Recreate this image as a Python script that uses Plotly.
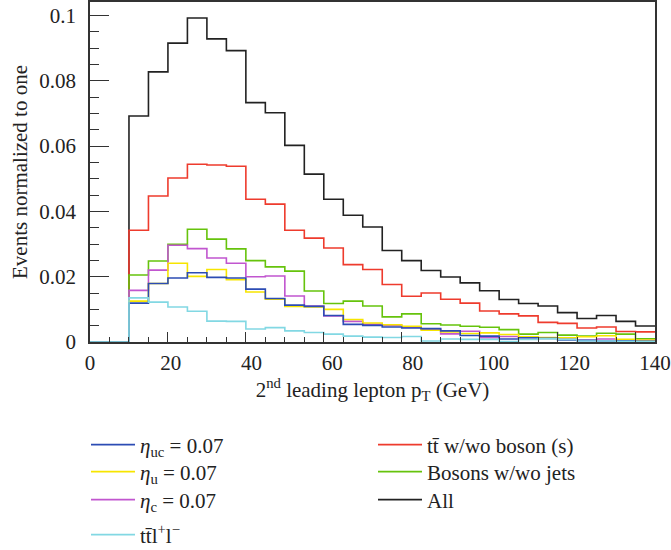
import plotly.graph_objects as go

# bin edges (GeV), 5 GeV bins
bin_edges = [0, 5, 10, 15, 20, 25, 30, 35, 40, 45, 50, 55, 60, 65, 70, 75,
             80, 85, 90, 95, 100, 105, 110, 115, 120, 125, 130, 135, 140, 145]

eta_uc = [0, 0, 0.0119, 0.0179, 0.0196, 0.0212, 0.0198, 0.0196, 0.0162, 0.0133, 0.0113,
          0.0109, 0.0081, 0.0054, 0.0051, 0.0046, 0.0043, 0.0041, 0.0034, 0.0020, 0.0018,
          0.0009, 0.0013, 0.0011, 0.0006, 0.0005, 0.0003, 0.0004, 0.0002]
eta_u = [0, 0, 0.0125, 0.0179, 0.0241, 0.0201, 0.0222, 0.0191, 0.0153, 0.0131, 0.0109,
         0.0107, 0.0100, 0.0069, 0.0058, 0.0053, 0.0048, 0.0036, 0.0031, 0.0026, 0.0028,
         0.0023, 0.0016, 0.0014, 0.0013, 0.0016, 0.0019, 0.0008, 0.0006]
eta_c = [0, 0, 0.0158, 0.0220, 0.0296, 0.0286, 0.0257, 0.0241, 0.0200, 0.0202, 0.0141,
         0.0110, 0.0080, 0.0063, 0.0054, 0.0051, 0.0045, 0.0039, 0.0025, 0.0033, 0.0013,
         0.0017, 0.0010, 0.0012, 0.0010, 0.0005, 0.0009, 0.0004, 0.0005]
ttll = [0, 0, 0.0135, 0.0122, 0.0107, 0.0094, 0.0064, 0.0063, 0.0040, 0.0044, 0.0034,
        0.0029, 0.0024, 0.0018, 0.0015, 0.0014, 0.0017, 0.0003, 0.0009, 0.0008, 0.0008,
        0.0001, 0.0008, 0.0010, 0.0008, 0.0003, 0.0003, 0.0002, 0.0001]
tt_boson = [0, 0, 0.0342, 0.0447, 0.0502, 0.0544, 0.0542, 0.0538, 0.0437, 0.0422, 0.0342,
            0.0318, 0.0288, 0.0237, 0.0222, 0.0176, 0.0140, 0.0150, 0.0131, 0.0119, 0.0095,
            0.0086, 0.0080, 0.0060, 0.0057, 0.0043, 0.0046, 0.0032, 0.0031]
bosons_jets = [0, 0, 0.0205, 0.0248, 0.0299, 0.0345, 0.0315, 0.0285, 0.0249, 0.0230, 0.0217,
               0.0156, 0.0118, 0.0125, 0.0110, 0.0077, 0.0086, 0.0056, 0.0052, 0.0048, 0.0045,
               0.0038, 0.0024, 0.0029, 0.0021, 0.0018, 0.0027, 0.0024, 0.0010]
all_bkg = [0, 0, 0.0692, 0.0827, 0.0915, 0.0992, 0.0928, 0.0892, 0.0733, 0.0702, 0.0602,
           0.0514, 0.0437, 0.0388, 0.0352, 0.0280, 0.0249, 0.0219, 0.0199, 0.0181, 0.0157,
           0.0130, 0.0118, 0.0110, 0.0090, 0.0072, 0.0081, 0.0063, 0.0049]

x_tick_labels = [0, 20, 40, 60, 80, 100, 120, 140]

FONT = '"Liberation Serif", "Times New Roman", Times, serif'
FS = 21

# (name, values, colour, legend id, column x (px), row centre y (px))
series = [
    ("All", all_bkg, "#222222", "legend7", 373, 500),
    ("t<span>t\u0304</span> w/wo boson (s)", tt_boson, "#ee3b2d", "legend5", 373, 445),
    ("Bosons w/wo jets", bosons_jets, "#66c30c", "legend6", 373, 472),
    ("<i>\u03b7</i><sub>c</sub> = 0.07", eta_c, "#c156cf", "legend3", 86, 500),
    ("<i>\u03b7</i><sub>u</sub> = 0.07", eta_u, "#f7e500", "legend2", 86, 472),
    ("<i>\u03b7</i><sub>uc</sub> = 0.07", eta_uc, "#2c4cb4", "legend", 86, 445),
    ("tt\u0304l<sup>+</sup>l<sup>\u2212</sup>", ttll, "#82d8e3", "legend4", 86, 535),
]

W, H = 671, 550
ML, MR, MT, MB = 90, 16, 2, 208
PW = W - ML - MR
PH = H - MT - MB

fig = go.Figure()
layout_legends = {}
for name, vals, col, lg, lx, ly in series:
    fig.add_trace(go.Scatter(
        x=bin_edges, y=vals + [vals[-1]], mode="lines", line_shape="hv",
        line=dict(color=col, width=1.6), name=name, legend=lg,
        hoverinfo="skip"))
    layout_legends[lg] = dict(
        x=(lx - ML) / PW, y=(MT + PH - ly) / PH, xanchor="left", yanchor="middle",
        bgcolor="rgba(0,0,0,0)", borderwidth=0, itemwidth=44,
        font=dict(family=FONT, size=FS, color="#222222"))

# dummy trace so the label axis is drawn
fig.add_trace(go.Scatter(x=[None], y=[None], xaxis="x2", showlegend=False,
                         hoverinfo="skip"))

fig.update_layout(
    width=W, height=H,
    margin=dict(l=ML, r=MR, t=MT, b=MB, autoexpand=False),
    paper_bgcolor="white", plot_bgcolor="white",
    font=dict(family=FONT, size=FS, color="#222222"),
    xaxis=dict(range=[0, 145], showgrid=False, zeroline=False,
               showline=True, linecolor="#333333", linewidth=1.5, mirror=True,
               ticks="inside", dtick=20, tick0=0, ticklen=10, tickcolor="#333333",
               tickwidth=1.3, showticklabels=False,
               minor=dict(dtick=5, ticks="inside", ticklen=5, tickcolor="#333333",
                          tickwidth=1.3, showgrid=False)),
    xaxis2=dict(overlaying="x", side="bottom", range=[0, 140], showgrid=False,
                zeroline=False, showline=False, ticks="", tickmode="array",
                tickvals=x_tick_labels, ticktext=[str(v) for v in x_tick_labels],
                ticklabelstandoff=6, automargin=False,
                tickfont=dict(family=FONT, size=FS, color="#222222"),
                title=dict(text="2<sup>nd</sup> leading lepton p<sub>T</sub> (GeV)",
                           font=dict(family=FONT, size=FS, color="#222222"),
                           standoff=2)),
    yaxis=dict(range=[0, 0.1041], showgrid=False, zeroline=False,
               showline=True, linecolor="#333333", linewidth=1.5, mirror=True,
               ticks="inside", dtick=0.02, tick0=0, ticklen=19, tickcolor="#333333",
               tickwidth=1.3, ticklabelstandoff=8, automargin=False,
               tickfont=dict(family=FONT, size=FS, color="#222222"),
               minor=dict(dtick=0.005, ticks="inside", ticklen=9, tickcolor="#333333",
                          tickwidth=1.3, showgrid=False),
               title=dict(text="Events normalized to one",
                          font=dict(family=FONT, size=FS, color="#222222"),
                          standoff=6)),
    **layout_legends,
)

fig.write_html("out.html")
